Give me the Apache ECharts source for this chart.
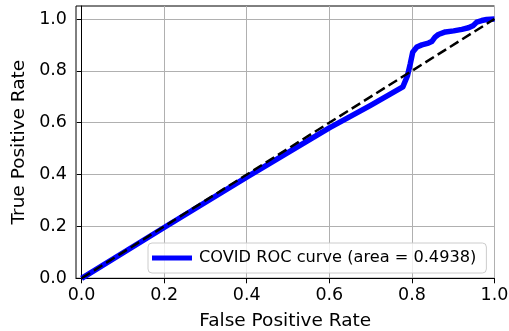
<!DOCTYPE html>
<html>
<head>
<meta charset="utf-8">
<script src="https://cdn.jsdelivr.net/npm/echarts@6/dist/echarts.min.js"></script>
<style>
  html, body { margin: 0; padding: 0; background: #fff; }
  #chart { width: 509px; height: 331px; }
</style>
</head>
<body>
<div id="chart"></div>
<script>
// ROC curve of the COVID classifier
const fpr = [0, 0.2, 0.4, 0.6, 0.7, 0.778, 0.789, 0.796, 0.802, 0.812, 0.824, 0.840, 0.848, 0.856, 0.864, 0.881, 0.901, 0.921, 0.937, 0.949, 0.957, 0.969, 0.981, 1.0];
const tpr = [0, 0.196, 0.39, 0.58, 0.667, 0.738, 0.78, 0.827, 0.872, 0.892, 0.900, 0.907, 0.913, 0.930, 0.940, 0.950, 0.954, 0.960, 0.966, 0.975, 0.988, 0.994, 0.998, 1.0];
// chance diagonal
const chanceX = [0, 1];
const chanceY = [0, 1];
const xTicks = [0, 0.2, 0.4, 0.6, 0.8, 1.0];
const yTicks = [0, 0.2, 0.4, 0.6, 0.8, 1.0];
const rocLabel = 'COVID ROC curve (area = 0.4938)';

const FONT = 'DejaVu Sans';
const chart = echarts.init(document.getElementById('chart'), null, { renderer: 'canvas' });

const fmt = v => v.toFixed(1);

chart.setOption({
  animation: false,
  backgroundColor: '#ffffff',
  textStyle: { fontFamily: FONT },
  grid: {
    left: 76, right: 14.5, top: 6, bottom: 52.7,
    containLabel: false, outerBoundsMode: 'none',
    show: true, borderColor: '#000', borderWidth: 1, backgroundColor: 'transparent'
  },
  xAxis: {
    type: 'value', min: -0.0135, max: 1.0,
    name: 'False Positive Rate', nameLocation: 'middle', nameGap: 33,
    nameTextStyle: { fontFamily: FONT, fontSize: 18.5, color: '#000' },
    axisLine: { show: true, lineStyle: { color: '#000', width: 1 } },
    axisTick: { show: true, length: 5, inside: false, customValues: xTicks, lineStyle: { color: '#000', width: 1 } },
    axisLabel: { customValues: xTicks, formatter: fmt, margin: 8, fontFamily: FONT, fontSize: 17.5, color: '#000', showMinLabel: true, showMaxLabel: true },
    splitLine: { show: true, lineStyle: { color: '#b0b0b0', width: 1 } }
  },
  yAxis: {
    type: 'value', min: 0, max: 1.05,
    name: 'True Positive Rate', nameLocation: 'middle', nameGap: 40,
    nameTextStyle: { fontFamily: FONT, fontSize: 18.5, color: '#000' },
    axisLine: { show: true, lineStyle: { color: '#000', width: 1 } },
    axisTick: { show: true, length: 5, inside: false, customValues: yTicks, lineStyle: { color: '#000', width: 1 } },
    axisLabel: { customValues: yTicks, formatter: fmt, margin: 9, fontFamily: FONT, fontSize: 17.5, color: '#000', showMinLabel: true, showMaxLabel: true },
    splitLine: { show: true, lineStyle: { color: '#b0b0b0', width: 1 } }
  },
  legend: {
    data: [rocLabel],
    left: 148, top: 243,
    orient: 'horizontal',
    icon: 'rect',
    itemWidth: 40, itemHeight: 5, itemGap: 10,
    padding: [7, 10, 7, 4],
    backgroundColor: 'rgba(255,255,255,0.8)',
    borderColor: '#cccccc', borderWidth: 1, borderRadius: 4,
    textStyle: { fontFamily: FONT, fontSize: 16.2, color: '#000', padding: [0, 0, 0, 2] }
  },
  series: [
    {
      name: rocLabel,
      type: 'line',
      data: fpr.map((x, i) => [x, tpr[i]]),
      showSymbol: false, symbol: 'none',
      lineStyle: { color: '#0000ff', width: 5.5, cap: 'butt', join: 'round' },
      itemStyle: { color: '#0000ff' },
      clip: true, z: 3
    },
    {
      name: 'chance',
      type: 'line',
      data: chanceX.map((x, i) => [x, chanceY[i]]),
      showSymbol: false, symbol: 'none',
      lineStyle: { color: '#000', width: 2.5, type: [10, 4.5] },
      itemStyle: { color: '#000' },
      clip: true, z: 4
    }
  ]
});
</script>
</body>
</html>
